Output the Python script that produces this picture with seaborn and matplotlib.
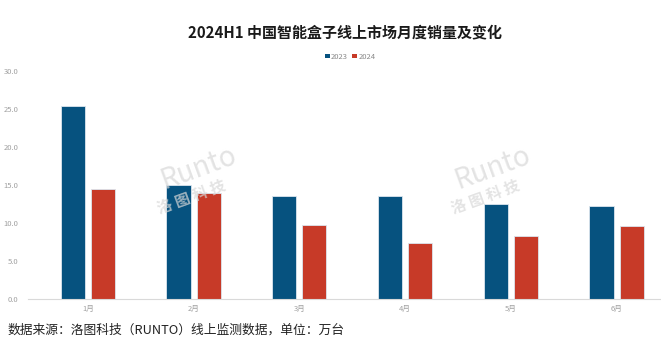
import pandas as pd
import matplotlib.pyplot as plt
import seaborn as sns
from matplotlib.patches import Patch

months = ['1月', '2月', '3月', '4月', '5月', '6月']
sales_2023 = [25.4, 15.0, 13.5, 13.6, 12.5, 12.2]
sales_2024 = [14.5, 13.9, 9.7, 7.4, 8.3, 9.6]
years = ['2023', '2024']
colors = ['#06527f', '#c73a28']

df = pd.DataFrame({
    'month': months * 2,
    'year': [years[0]] * 6 + [years[1]] * 6,
    'sales': sales_2023 + sales_2024,
})

sns.set_style('white')
plt.rcParams['font.family'] = ['Noto Sans CJK SC', 'DejaVu Sans']

fig = plt.figure(figsize=(6.61, 3.61), dpi=100)
ax = fig.add_axes([35 / 661, 62 / 361, 626 / 661, 228 / 361])

sns.barplot(data=df, x='month', y='sales', hue='year', palette=colors,
            saturation=1, width=0.57, gap=0.2, edgecolor='#dce6ee',
            linewidth=0.6, legend=False, ax=ax)

ax.set_ylim(0, 30)
ax.set_xlim(-0.5, 5.42)
ax.set_yticks(range(0, 31, 5))
ax.set_yticklabels([f'{v:.1f}' for v in range(0, 31, 5)])
ax.set_xlabel('')
ax.set_ylabel('')
ax.tick_params(axis='both', labelsize=5.5, colors='#a0a0a0', length=0)
ax.tick_params(axis='y', pad=12)
ax.tick_params(axis='x', pad=4)
for side in ['top', 'right', 'left']:
    ax.spines[side].set_visible(False)
ax.spines['bottom'].set_color('#d9d9d9')
ax.spines['bottom'].set_linewidth(0.8)
ax.spines['bottom'].set_bounds(-0.57, 5.42)

# watermark, drawn faintly on top like the original
for x0 in [0.30, 0.745]:
    fig.text(x0, 0.535, 'Runto', fontsize=20, color='#d8d8d8', style='italic',
             rotation=20, ha='center', va='center', alpha=0.7, zorder=5)
    fig.text(x0 - 0.01, 0.455, '洛 图 科 技', fontsize=11, color='#d8d8d8',
             fontweight='bold', rotation=20, ha='center', va='center',
             alpha=0.7, zorder=5)

fig.text(0.522, 0.91, '2024H1 中国智能盒子线上市场月度销量及变化',
         fontsize=10.8, fontweight='bold', color='#1a1a1a',
         ha='center', va='center')

handles = [Patch(facecolor=c, edgecolor='none') for c in colors]
fig.legend(handles, years, loc='center', bbox_to_anchor=(0.53, 0.843),
           ncol=2, frameon=False, fontsize=5.5, labelcolor='#8a8a8a',
           handlelength=0.6, handleheight=0.6, handletextpad=0.2,
           columnspacing=0.6)

fig.text(8 / 661, 1 - 330 / 361, '数据来源：洛图科技（RUNTO）线上监测数据，单位：万台',
         fontsize=9.2, color='#222222', ha='left', va='center')

fig.savefig('out.png', dpi=100, facecolor='white')
